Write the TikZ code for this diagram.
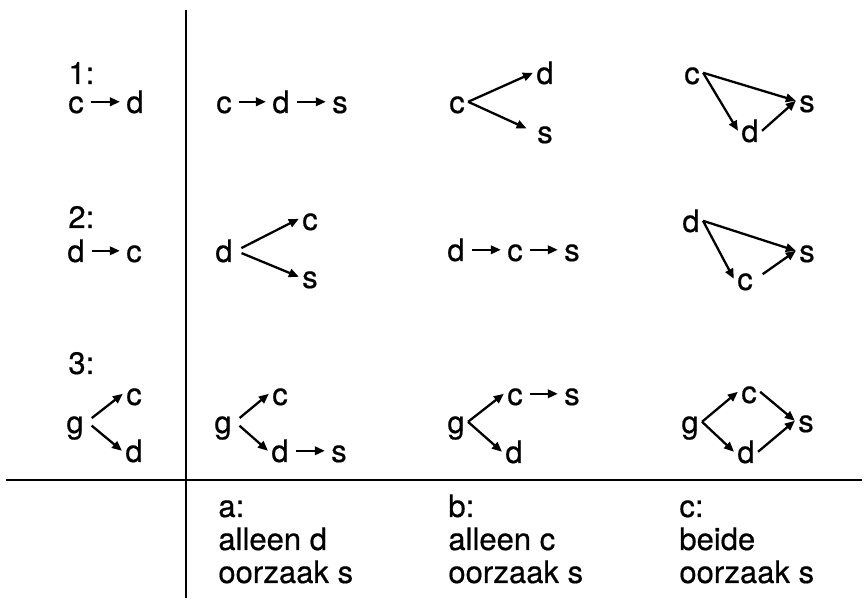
\documentclass[tikz,border=0pt]{standalone}
\usepackage{fontspec}
\setmainfont{TeX Gyre Heros}[FakeBold=0.5]
\usetikzlibrary{arrows.meta}
\begin{document}
\begin{tikzpicture}[x=0.5pt,y=-0.5pt,
  lt/.style={font=\fontsize{15.5}{18}\selectfont, inner sep=1.5pt, text height=11.2pt, text depth=0pt, anchor=base},
  lab/.style={font=\fontsize{15.5}{18}\selectfont, inner sep=0pt, anchor=base west},
  arr/.style={line width=1.15pt, -{Triangle[length=5pt,width=4.2pt]}},
  hz/.style={arr, shorten <=2pt, shorten >=1.5pt},
  rule/.style={line width=1.2pt}]
\useasboundingbox (0,0) rectangle (864,603);
% rules
\draw[rule] (186,10) -- (186,598);
\draw[rule] (6,480) -- (862,480);
% left column
\node[lab] (n1) at (68,84) {1:};
\node[lt] (L1c) at (76,113) {c};
\node[lt] (L1d) at (135,113) {d};
\draw[hz] (L1c) -- (L1d);
\node[lab] (n2) at (68,228) {2:};
\node[lt] (L2d) at (76,262) {d};
\node[lt] (L2c) at (134,262) {c};
\draw[hz] (L2d) -- (L2c);
\node[lab] (n3) at (68,374) {3:};
\node[lt] (L3g) at (75,433) {g};
\node[lt] (L3c) at (134,405) {c};
\node[lt] (L3d) at (134,462) {d};
\draw[arr, shorten <=3pt] (L3g.east) -- (L3c.west);
\draw[arr, shorten <=3pt] (L3g.east) -- (L3d.west);
% column a
\node[lt] (A1c) at (224,113) {c};
\node[lt] (A1d) at (281,113) {d};
\node[lt] (A1s) at (340,113) {s};
\draw[hz] (A1c) -- (A1d);
\draw[hz] (A1d) -- (A1s);
\node[lt] (A2d) at (224,262) {d};
\node[lt] (A2c) at (310,230) {c};
\node[lt] (A2s) at (310,288) {s};
\draw[arr, shorten <=3pt] (A2d.east) -- (A2c.west);
\draw[arr, shorten <=3pt] (A2d.east) -- (A2s.west);
\node[lt] (A3g) at (223,433) {g};
\node[lt] (A3c) at (280,405) {c};
\node[lt] (A3d) at (280,462) {d};
\node[lt] (A3s) at (339,462) {s};
\draw[arr, shorten <=3pt] (A3g.east) -- (A3c.west);
\draw[arr, shorten <=3pt] (A3g.east) -- (A3d.west);
\draw[hz] (A3d) -- (A3s);
% column b
\node[lt] (B1c) at (457,113) {c};
\node[lt] (B1d) at (545,84) {d};
\node[lt] (B1s) at (545,143) {s};
\draw[arr] (B1c.east) -- (B1d.west);
\draw[arr, shorten >=4pt] (B1c.east) -- (B1s.west);
\node[lt] (B2d) at (456,261) {d};
\node[lt] (B2c) at (515,261) {c};
\node[lt] (B2s) at (572,261) {s};
\draw[hz] (B2d) -- (B2c);
\draw[hz] (B2c) -- (B2s);
\node[lt] (B3g) at (456,433) {g};
\node[lt] (B3c) at (515,405) {c};
\node[lt] (B3s) at (572,405) {s};
\node[lt] (B3d) at (514,463) {d};
\draw[arr] (B3g.east) -- (B3c.west);
\draw[arr] (B3g.east) -- (B3d.west);
\draw[hz] (B3c) -- (B3s);
% column c
\node[lt] (C1c) at (692,84) {c};
\node[lt] (C1s) at (807,112) {s};
\node[lt] (C1d) at (750,142) {d};
\draw[arr] (C1c.east) -- (C1s.west);
\draw[arr] (C1c.east) -- (C1d.west);
\draw[arr] (C1d.east) -- (C1s.west);
\node[lt] (C2d) at (691,232) {d};
\node[lt] (C2s) at (807,262) {s};
\node[lt] (C2c) at (745,290) {c};
\draw[arr] (C2d.east) -- (C2s.west);
\draw[arr] (C2d.east) -- (C2c.west);
\draw[arr, shorten <=4pt] (C2c.east) -- (C2s.west);
\node[lt] (C3g) at (690,433) {g};
\node[lt] (C3c) at (749,403) {c};
\node[lt] (C3s) at (806,432) {s};
\node[lt] (C3d) at (746,463) {d};
\draw[arr] (C3g.east) -- (C3c.west);
\draw[arr] (C3g.east) -- (C3d.west);
\draw[arr] (C3c.east) -- (C3s.west);
\draw[arr] (C3d.east) -- (C3s.west);
% bottom labels
\node[lab] (ta1) at (218,517) {a:};
\node[lab] (ta2) at (218,550) {alleen d};
\node[lab] (ta3) at (218,583) {oorzaak s};
\node[lab] (tb1) at (448,517) {b:};
\node[lab] (tb2) at (448,550) {alleen c};
\node[lab] (tb3) at (448,583) {oorzaak s};
\node[lab] (tc1) at (679,517) {c:};
\node[lab] (tc2) at (679,550) {beide};
\node[lab] (tc3) at (679,583) {oorzaak s};
\end{tikzpicture}
\end{document}
